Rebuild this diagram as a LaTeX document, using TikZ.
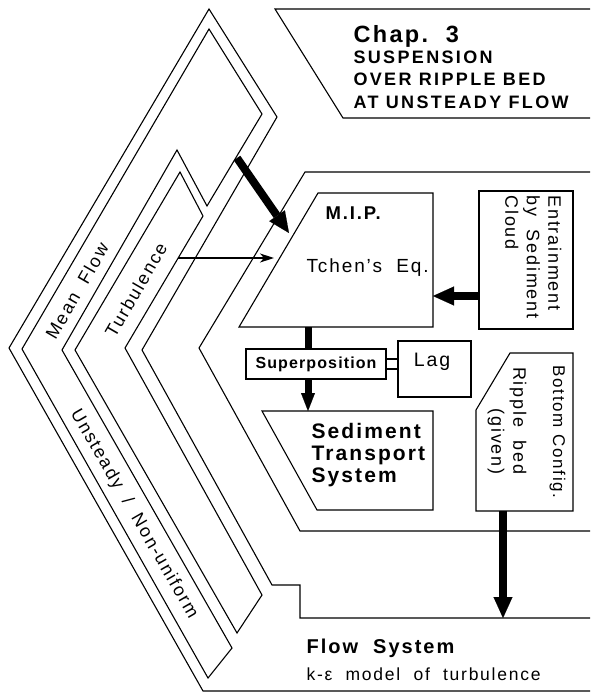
\documentclass[tikz,border=0pt]{standalone}
\usepackage{fontspec}
\setmainfont[LetterSpace=10]{Liberation Sans}
\usetikzlibrary{arrows.meta}
\newcommand{\setfs}[1]{\fontsize{#1}{#1}\selectfont}

\begin{document}
\begin{tikzpicture}[x=1pt, y=-1pt, line width=1.1pt,
  region/.style={draw, line width=1.1pt},
  box/.style={draw, line width=1.1pt, inner sep=0pt},
  txt/.style={inner sep=0pt, align=left},
  slant/.style={inner sep=0pt, font=\setfs{18}},
  fat/.style={line width=8pt, -{Triangle[length=21pt,width=19pt,line width=0.1pt]}},
  bar/.style={line width=7pt},
  thin/.style={line width=1.1pt, -{Stealth[length=14pt,width=9pt,inset=4pt]}}]
\useasboundingbox (0,0) rectangle (590,693);

% regions
\draw[region] (590,9) -- (275,9) -- (343,118) -- (590,118);
\draw[region] (590,691) -- (203,691) -- (9,348) -- (209,9) -- (277,117) -- (142,350)
  -- (272,585) -- (300,585) -- (300,618) -- (590,618);
\draw[region] (209,29) -- (262,114) -- (207,206) -- (177,150) -- (62,350)
  -- (232,648) -- (208,678) -- (22,349) -- cycle;
\draw[region] (180,172) -- (203,216) -- (125,348) -- (262,595) -- (237,633)
  -- (75,350) -- cycle;
\draw[region] (590,172) -- (305,172) -- (199,348) -- (300,531) -- (590,531);

% title
\node[txt, anchor=north west, font=\bfseries\setfs{23.5}] (chap) at (353,25) {Chap.~~3};
\node[txt, anchor=north west, font=\bfseries\fontsize{18}{22.5}\selectfont\addfontfeature{LetterSpace=13}] (theme) at (353,50)
  {SUSPENSION\\OVER RIPPLE BED\\AT UNSTEADY FLOW};

% band labels
\node[slant, rotate=60] (mf) at (77,291) {Mean~~Flow};
\node[slant, rotate=60] (turb) at (136,290) {Turbulence};
\node[slant, rotate=-60] (unst) at (134,514) {Unsteady~~/~~Non-uniform};

% M.I.P.
\coordinate (mip-tl) at (318,193);
\coordinate (mip-tr) at (433,193);
\coordinate (mip-br) at (433,327);
\coordinate (mip-bl) at (239,327);
\draw[region] (mip-bl) -- (mip-tl) -- (mip-tr) -- (mip-br) -- cycle;
\node[txt, anchor=north west, font=\bfseries\setfs{18.5}] (mip) at (325,206) {M.I.P.};
\node[txt, anchor=north west, font=\setfs{19}] (tchen) at (306,258) {Tchen's~~Eq.};

% entrainment
\node[box, minimum width=94pt, minimum height=138pt] (entr) at (526,260) {};
\node[txt, rotate=-90, anchor=north west, font=\fontsize{18}{21.5}\selectfont] (entrtxt) at (562,195)
  {Entrainment\\by~~Sediment\\Cloud};

% superposition and lag
\node[box, minimum width=140pt, minimum height=30pt, font=\bfseries\setfs{16}\addfontfeature{LetterSpace=7}] (sup) at (316,364) {Superposition};
\node[box, minimum width=73pt, minimum height=56pt] (lag) at (434.5,369) {};
\node[txt, anchor=north, font=\setfs{19.5}] (lagtxt) at (432,353) {Lag};
\draw ([yshift=5pt]sup.east) -- ([yshift=5pt]sup.east -| lag.west);
\draw ([yshift=-5pt]sup.east) -- ([yshift=-5pt]sup.east -| lag.west);

% sediment transport system
\coordinate (sts-tl) at (262,411);
\coordinate (sts-tr) at (433,411);
\coordinate (sts-br) at (433,510);
\coordinate (sts-bl) at (317,510);
\draw[region] (sts-tl) -- (sts-tr) -- (sts-br) -- (sts-bl) -- cycle;
\node[txt, anchor=north west, font=\bfseries\fontsize{21}{22}\selectfont] (sts) at (311,423)
  {Sediment\\Transport\\System};

% bottom configuration
\coordinate (bc-a) at (510,353);
\coordinate (bc-b) at (573,353);
\coordinate (bc-c) at (573,511);
\coordinate (bc-d) at (476,511);
\coordinate (bc-e) at (476,410);
\draw[region] (bc-a) -- (bc-b) -- (bc-c) -- (bc-d) -- (bc-e) -- cycle;
\node[txt, rotate=-90, anchor=north west, font=\setfs{17}] (bctitle) at (566,365) {Bottom Config.};
\node[txt, rotate=-90, anchor=north east, align=right, font=\fontsize{18}{22}\selectfont] (bcbed) at (527,475)
  {Ripple~~bed\\(given)};

% flow system
\node[txt, anchor=north west, font=\bfseries\setfs{20}] (flow) at (306,638) {Flow~~System};
\node[txt, anchor=north west, font=\setfs{17.5}] (keps) at (306,667) {k-ε~~model~~of~~turbulence};

% arrows
\coordinate (mf-src) at (237,158);
\coordinate (mip-nw) at (289,233);
\draw[fat] (mf-src) -- (mip-nw);
\coordinate (tb-src) at (178,258);
\coordinate (mip-w) at (274,258);
\draw[thin] (tb-src) -- (mip-w);
\coordinate (mip-e) at (433,296);
\draw[fat] (entr.west |- mip-e) -- (mip-e);
\coordinate (mip-s) at (308,327);
\draw[bar] (mip-s) -- (mip-s |- sup.north);
\draw[bar, -{Triangle[length=18pt,width=14pt,line width=0.1pt]}] (sup.south -| mip-s) -- (mip-s |- sts-tl);
\coordinate (bc-s) at (503,511);
\coordinate (flow-n) at (503,618);
\draw[fat] (bc-s) -- (flow-n);
\end{tikzpicture}
\end{document}
